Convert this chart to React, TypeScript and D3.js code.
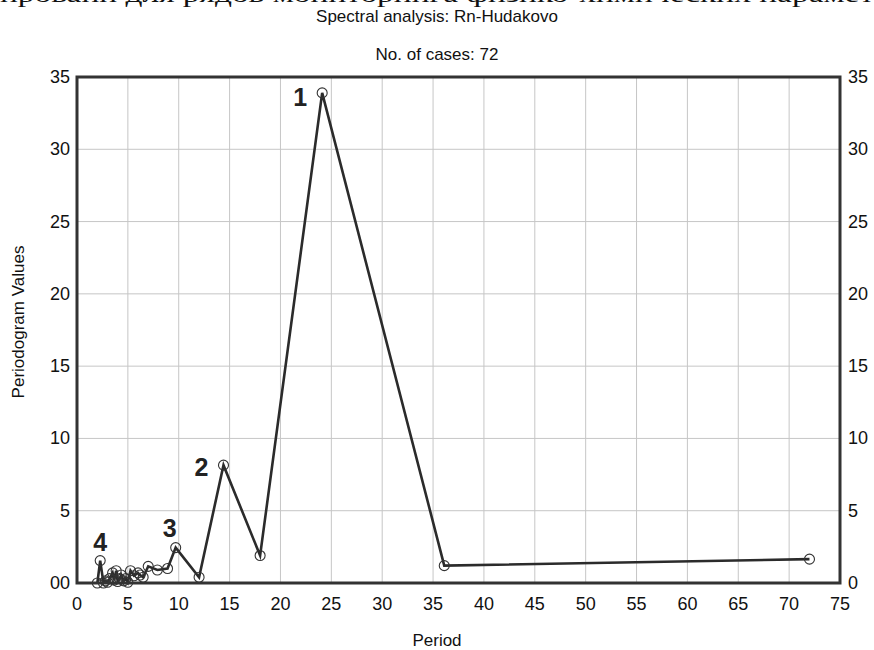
import React from "react";
import * as d3 from "d3";

const periods = [2.0, 2.28, 2.6, 2.8, 3.0, 3.2, 3.5, 3.65, 3.85, 4.0, 4.2, 4.35, 4.6, 4.8, 5.0, 5.26, 5.6, 6.0, 6.2, 6.5, 7.0, 7.9, 8.9, 9.7, 12.0, 14.4, 18.0, 24.1, 36.1, 72.0];
const values = [0.0, 1.55, 0.0, 0.15, 0.05, 0.3, 0.7, 0.2, 0.85, 0.1, 0.3, 0.55, 0.15, 0.3, 0.05, 0.85, 0.5, 0.7, 0.55, 0.4, 1.15, 0.9, 1.0, 2.45, 0.4, 8.15, 1.9, 33.9, 1.2, 1.65];
const peakLabels = ["1", "2", "3", "4"];
const peakPeriods = [24.1, 14.4, 9.7, 2.28];
const peakValues = [33.9, 8.15, 2.45, 1.55];
const xTicks = [0, 5, 10, 15, 20, 25, 30, 35, 40, 45, 50, 55, 60, 65, 70, 75];
const yTicks = [0, 5, 10, 15, 20, 25, 30, 35];
const yTickLabelsLeft = ["00", "5", "10", "15", "20", "25", "30", "35"];
const yTickLabelsRight = ["0", "5", "10", "15", "20", "25", "30", "35"];
const title = "Spectral analysis: Rn-Hudakovo";
const subtitle = "No. of cases: 72";
const xTitle = "Period";
const yTitle = "Periodogram Values";
const topText = "ировани для рядов мониторинга физико-химических парамет";

export default function App() {
  const W = 874, H = 650;
  const L = 77, R = 840, T = 77, B = 583;
  const x = d3.scaleLinear().domain([0, 75]).range([L, R]);
  const y = d3.scaleLinear().domain([0, 35]).range([B, T]);
  const pts = periods.map((p, i) => [p, values[i]] as [number, number]);
  const line = d3.line<[number, number]>().x(d => x(d[0])).y(d => y(d[1]));
  const font = "'Liberation Sans', Arial, sans-serif";
  const labelOffsets: [number, number][] = [[-22, 13], [-22, 11], [-6, -11], [0, -10]];
  return (
    <svg width={W} height={H} style={{ position: "absolute", left: 0, top: 0, background: "#fff" }}>
      <rect x={0} y={0} width={W} height={H} fill="#fff" />
      <text x={0} y={2} fontFamily="'Liberation Serif', 'Times New Roman', serif" fontSize={24} textLength={874} lengthAdjust="spacingAndGlyphs" fill="#111">{topText}</text>
      <text x={437} y={22} textAnchor="middle" fontFamily={font} fontSize={17} fill="#111">{title}</text>
      <text x={437} y={60} textAnchor="middle" fontFamily={font} fontSize={17} fill="#111">{subtitle}</text>
      {xTicks.slice(1, -1).map(t => (
        <line key={"gx" + t} x1={x(t)} x2={x(t)} y1={T} y2={B} stroke="#c6c6c6" strokeWidth={1} />
      ))}
      {yTicks.slice(1, -1).map(t => (
        <line key={"gy" + t} x1={L} x2={R} y1={y(t)} y2={y(t)} stroke="#c6c6c6" strokeWidth={1} />
      ))}
      <path d={line(pts) || ""} fill="none" stroke="#2b2b2b" strokeWidth={2.6} strokeLinejoin="miter" />
      {pts.map((d, i) => (
        <circle key={"c" + i} cx={x(d[0])} cy={y(d[1])} r={5} fill="none" stroke="#333" strokeWidth={1.1} />
      ))}
      <rect x={L} y={T} width={R - L} height={B - T} fill="none" stroke="#333" strokeWidth={3} />
      {yTicks.map((t, i) => (
        <text key={"yl" + t} x={L - 7} y={y(t) + 6} textAnchor="end" fontFamily={font} fontSize={18} fill="#111">{yTickLabelsLeft[i]}</text>
      ))}
      {yTicks.map((t, i) => (
        <text key={"yr" + t} x={R + 8} y={y(t) + 6} textAnchor="start" fontFamily={font} fontSize={18} fill="#111">{yTickLabelsRight[i]}</text>
      ))}
      {xTicks.map(t => (
        <text key={"xl" + t} x={x(t)} y={B + 27} textAnchor="middle" fontFamily={font} fontSize={18} fill="#111">{t}</text>
      ))}
      {peakLabels.map((lab, i) => (
        <text key={"pk" + i} x={x(peakPeriods[i]) + labelOffsets[i][0]} y={y(peakValues[i]) + labelOffsets[i][1]} textAnchor="middle" fontFamily={font} fontWeight="bold" fontSize={25} fill="#222">{lab}</text>
      ))}
      <text x={437} y={646} textAnchor="middle" fontFamily={font} fontSize={17} fill="#111">{xTitle}</text>
      <text transform={`translate(24, ${(T + B) / 2 - 8}) rotate(-90)`} textAnchor="middle" fontFamily={font} fontSize={17} fill="#111">{yTitle}</text>
    </svg>
  );
}
